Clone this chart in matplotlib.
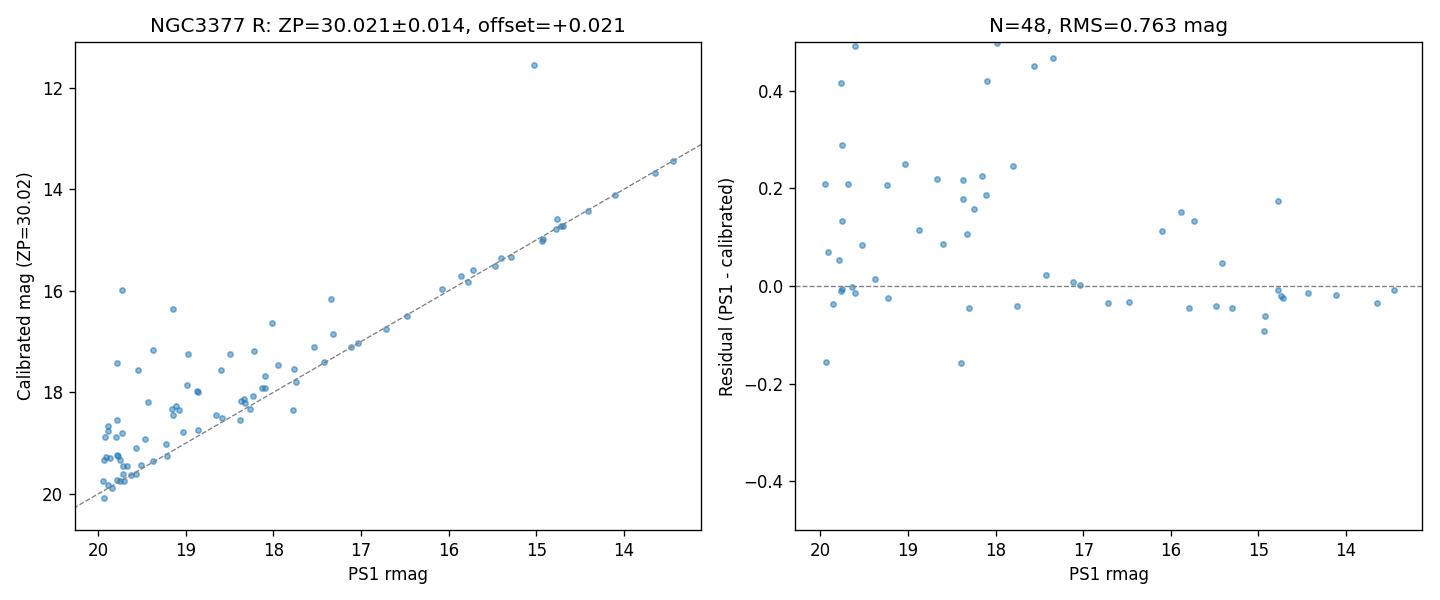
import matplotlib
matplotlib.use('Agg')
import matplotlib.pyplot as plt
import numpy as np

# left panel: PS1 rmag vs calibrated mag
ps1 = [19.73, 19.14, 18.01, 17.34, 17.32, 19.37, 18.97, 18.49, 18.22, 17.54,
       19.79, 19.54, 18.60, 17.95, 17.77, 17.42, 18.09, 17.74, 18.98, 18.87,
       18.86, 18.13, 18.10, 18.23, 18.34, 18.37, 18.32, 18.27, 19.43, 19.16,
       19.11, 19.08, 19.14, 18.66, 18.59, 18.38, 17.78, 19.79, 19.89, 19.89,
       19.92, 19.80, 19.73, 19.03, 18.86, 19.47, 19.57, 19.22, 19.93, 19.91,
       19.86, 19.78, 19.77, 19.75, 19.72, 19.67, 19.51, 19.37, 19.21, 19.72,
       19.62, 19.57, 19.94, 19.89, 19.84, 19.78, 19.75, 19.71, 19.93, 17.11,
       17.03, 16.71, 16.47, 16.08, 15.86, 15.78, 15.72, 15.47, 15.40, 15.29,
       15.03, 14.93, 14.92, 14.76, 14.77, 14.72, 14.70, 14.41, 14.10, 13.64,
       13.44]
cal = [15.99, 16.36, 16.64, 16.16, 16.85, 17.17, 17.25, 17.25, 17.19, 17.11,
       17.42, 17.56, 17.56, 17.46, 17.54, 17.40, 17.68, 17.80, 17.86, 17.97,
       17.99, 17.92, 17.92, 18.07, 18.13, 18.17, 18.21, 18.33, 18.19, 18.33,
       18.27, 18.35, 18.45, 18.45, 18.51, 18.55, 18.35, 18.55, 18.67, 18.76,
       18.88, 18.88, 18.80, 18.78, 18.74, 18.92, 19.10, 19.02, 19.34, 19.28,
       19.30, 19.24, 19.26, 19.34, 19.45, 19.45, 19.43, 19.36, 19.26, 19.61,
       19.63, 19.61, 19.75, 19.83, 19.89, 19.73, 19.75, 19.75, 20.08, 17.11,
       17.03, 16.75, 16.50, 15.97, 15.71, 15.83, 15.59, 15.51, 15.36, 15.34,
       11.55, 15.02, 14.98, 14.59, 14.78, 14.73, 14.73, 14.43, 14.11, 13.68,
       13.44]

# right panel: residuals (PS1 - calibrated)
ps1_res = [19.60, 19.77, 19.75, 19.04, 19.95, 19.68, 19.24, 19.75, 18.88, 19.53,
           19.91, 19.79, 19.38, 19.64, 19.75, 19.77, 19.60, 19.23, 19.86, 19.94,
           17.98, 17.34, 17.56, 18.10, 17.80, 18.67, 18.37, 18.15, 18.37, 18.11,
           18.25, 18.33, 18.60, 17.43, 17.12, 17.04, 18.30, 17.76, 18.39, 16.72,
           16.48, 16.10, 15.88, 15.74, 15.42, 15.79, 15.48, 15.30, 14.78, 14.78,
           14.74, 14.72, 14.93, 14.94, 14.43, 14.12, 13.65, 13.45]
resid = [0.492, 0.416, 0.289, 0.250, 0.209, 0.209, 0.207, 0.133, 0.115, 0.084,
         0.070, 0.053, 0.014, -0.002, -0.006, -0.010, -0.014, -0.025, -0.037, -0.156,
         0.498, 0.468, 0.451, 0.421, 0.246, 0.219, 0.217, 0.226, 0.178, 0.187,
         0.158, 0.107, 0.086, 0.023, 0.008, 0.002, -0.045, -0.041, -0.158, -0.035,
         -0.033, 0.113, 0.152, 0.133, 0.047, -0.045, -0.041, -0.045, 0.174, -0.008,
         -0.021, -0.025, -0.062, -0.092, -0.014, -0.018, -0.035, -0.008]

fig, (ax1, ax2) = plt.subplots(1, 2, figsize=(12, 5), dpi=120)
fig.subplots_adjust(left=0.052, right=0.9875, top=0.93, bottom=0.1167, wspace=0.15)

ax1.scatter(ps1, cal, s=10, alpha=0.5, color='C0')
ax1.plot([12, 22], [12, 22], '--', color='gray', lw=0.8)
ax1.set_xlim(20.265, 13.115)
ax1.set_ylim(20.71, 11.10)
ax1.set_xlabel('PS1 rmag')
ax1.set_ylabel('Calibrated mag (ZP=30.02)')
ax1.set_title('NGC3377 R: ZP=30.021±0.014, offset=+0.021')

ax2.scatter(ps1_res, resid, s=10, alpha=0.5, color='C0')
ax2.axhline(0, ls='--', color='gray', lw=0.8)
ax2.set_xlim(20.285, 13.133)
ax2.set_ylim(-0.5, 0.5)
ax2.set_xlabel('PS1 rmag')
ax2.set_ylabel('Residual (PS1 - calibrated)')
ax2.set_title('N=48, RMS=0.763 mag')

fig.savefig('out.png')
